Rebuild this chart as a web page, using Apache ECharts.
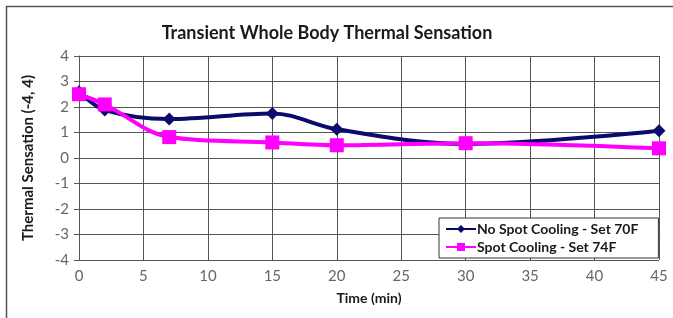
<!DOCTYPE html>
<html>
<head>
<meta charset="utf-8">
<script src="https://cdn.jsdelivr.net/npm/echarts@6/dist/echarts.min.js"></script>
<style>
  html, body { margin: 0; padding: 0; background: #fff; }
  #chart { width: 673px; height: 318px; }
</style>
</head>
<body>
<div id="chart"></div>
<script>
  // time in minutes
  const times = [0, 2, 7, 15, 20, 30, 45]
  const noSpotCooling = [2.6, 1.88, 1.53, 1.75, 1.13, 0.55, 1.07]
  const spotCooling = [2.5, 2.1, 0.82, 0.61, 0.5, 0.58, 0.38]
  const xTicks = [0, 5, 10, 15, 20, 25, 30, 35, 40, 45]
  const yTicks = [-4, -3, -2, -1, 0, 1, 2, 3, 4]

  const font = 'Lato, "DejaVu Sans", sans-serif'
  const pair = (xs, ys) => xs.map((x, i) => [x, ys[i]])

  const chart = echarts.init(document.getElementById('chart'))
  chart.setOption({
    animation: false,
    title: {
      text: 'Transient Whole Body Thermal Sensation',
      left: 322,
      textAlign: 'center',
      top: 19,
      textStyle: { fontFamily: font, fontSize: 18, fontWeight: 'bold', color: '#1a1a1a' }
    },
    graphic: [{
      type: 'rect',
      shape: { x: 6.5, y: 6.5, width: 700, height: 400 },
      style: { fill: 'none', stroke: '#555', lineWidth: 1.5 },
      silent: true
    }],
    grid: { left: 79, right: 14, top: 56, bottom: 58 },
    legend: {
      orient: 'vertical',
      left: 439,
      top: 218,
      itemGap: 4,
      itemWidth: 30,
      itemHeight: 10,
      padding: [4, 20, 4, 6],
      borderColor: '#333',
      borderWidth: 1,
      backgroundColor: '#fff',
      textStyle: {
        fontFamily: font, fontSize: 14, fontWeight: 'bold', color: '#1a1a1a',
        padding: [0, 0, 0, -4]
      },
      data: ['No Spot Cooling - Set 70F', 'Spot Cooling - Set 74F']
    },
    xAxis: {
      type: 'value',
      min: 0,
      max: 45,
      interval: 5,
      name: 'Time (min)',
      nameLocation: 'middle',
      nameGap: 31,
      nameTextStyle: { fontFamily: font, fontSize: 14, fontWeight: 'bold', color: '#1a1a1a' },
      axisLine: { show: true, lineStyle: { color: '#555' } },
      axisTick: { show: true, length: 5, lineStyle: { color: '#555' } },
      axisLabel: {
        fontFamily: font, fontSize: 15, color: '#666', margin: 9,
        formatter: v => xTicks.includes(v) ? String(v) : ''
      },
      splitLine: { show: true, lineStyle: { color: '#555', width: 1 } }
    },
    yAxis: {
      type: 'value',
      min: -4,
      max: 4,
      interval: 1,
      name: 'Thermal Sensation (-4, 4)',
      nameLocation: 'middle',
      nameGap: 43,
      nameTextStyle: { fontFamily: font, fontSize: 15, fontWeight: 'bold', color: '#1a1a1a' },
      axisLine: { show: true, lineStyle: { color: '#555' } },
      axisTick: { show: true, length: 5, lineStyle: { color: '#555' } },
      axisLabel: {
        fontFamily: font, fontSize: 15, color: '#666', margin: 10,
        formatter: v => yTicks.includes(v) ? String(v) : ''
      },
      splitLine: { show: true, lineStyle: { color: '#555', width: 1 } }
    },
    series: [
      {
        name: 'No Spot Cooling - Set 70F',
        type: 'line',
        smooth: 0.35,
        data: pair(times, noSpotCooling),
        symbol: 'diamond',
        symbolSize: 13,
        lineStyle: { color: '#0b0b6e', width: 4 },
        itemStyle: { color: '#0b0b6e' },
        z: 3
      },
      {
        name: 'Spot Cooling - Set 74F',
        type: 'line',
        smooth: 0.35,
        data: pair(times, spotCooling),
        symbol: 'rect',
        symbolSize: 14,
        lineStyle: { color: '#ff00ff', width: 4 },
        itemStyle: { color: '#ff00ff' },
        z: 4
      }
    ]
  })
</script>
</body>
</html>
